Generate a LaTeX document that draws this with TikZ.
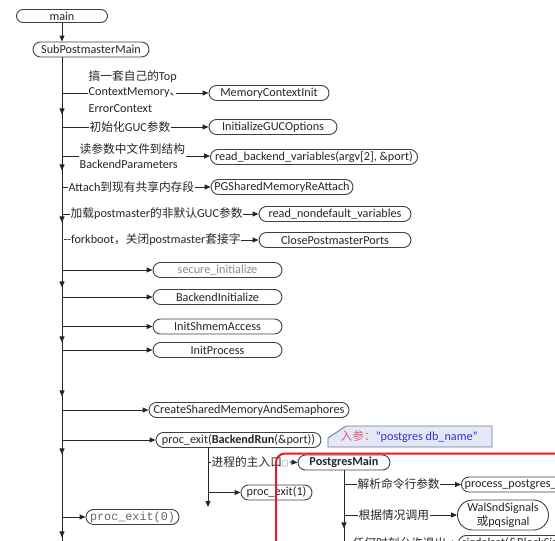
\documentclass[tikz,border=0pt]{standalone}
\usepackage{fontspec}
\setmainfont{Carlito}
\newfontfamily\cjk[Scale=0.96]{Noto Sans CJK SC}
\setmonofont{Liberation Mono}
\usetikzlibrary{arrows.meta,shapes.misc,decorations.markings}
\newcommand{\zh}[1]{{\cjk #1}}
\definecolor{framered}{RGB}{225,30,40}
\definecolor{callfill}{RGB}{228,231,248}
\definecolor{callline}{RGB}{110,120,140}
\definecolor{callred}{RGB}{225,90,120}
\definecolor{callblue}{RGB}{50,50,220}
\begin{document}
\begin{tikzpicture}[x=1pt,y=-1pt,
  every node/.style={font=\fontsize{12.2}{15}\selectfont, text=black!85},
  pill/.style={draw=black!75, line width=0.9pt, rounded rectangle, minimum height=15pt, inner sep=1pt, fill=white},
  lab/.style={anchor=west, inner sep=0.5pt},
  conn/.style={line width=0.9pt, draw=black!85},
  arr/.style={conn, -{Triangle[length=6pt,width=5pt]}}
]
\useasboundingbox (0,0) rectangle (555,541);
\clip (0,0) rectangle (555,541);

% top nodes
\node[pill, minimum width=93pt, minimum height=13pt] (main) at (62,16) {main};
\node[pill, minimum width=118pt] (spm) at (91,49.5) {SubPostmasterMain};
\draw[arr] (main.south) -- (main.south |- spm.north);

% main trunk
\coordinate (t0) at (main.south |- spm.south);
\coordinate (tend) at (62,560);
\draw[conn, postaction={decorate}, decoration={markings,
  mark=at position 57pt with {\arrow{Triangle[length=6pt,width=5pt]}},
  mark=at position 113pt with {\arrow{Triangle[length=6pt,width=5pt]}},
  mark=at position 165pt with {\arrow{Triangle[length=6pt,width=5pt]}},
  mark=at position 230pt with {\arrow{Triangle[length=6pt,width=5pt]}},
  mark=at position 285pt with {\arrow{Triangle[length=6pt,width=5pt]}},
  mark=at position 339pt with {\arrow{Triangle[length=6pt,width=5pt]}},
  mark=at position 397pt with {\arrow{Triangle[length=6pt,width=5pt]}},
  mark=at position 480pt with {\arrow{Triangle[length=6pt,width=5pt]}}}]
  (t0) -- (tend);

% branch 1
\node[lab] (l1a) at (88,77) {\zh{搞一套自己的}Top};
\node[lab] (l1b) at (88,93) {ContextMemory\zh{、}\kern-6pt};
\node[lab] (l1c) at (88,109) {ErrorContext};
\node[pill, minimum width=122pt] (mci) at (269,93) {MemoryContextInit};
\draw[conn] (t0 |- l1b.west) -- (l1b.west);
\draw[arr] (l1b.east) -- (mci.west);

% branch 2
\node[lab] (l2) at (89,127) {\zh{初始化}GUC\zh{参数}};
\node[pill, minimum width=130pt] (igo) at (273,127) {InitializeGUCOptions};
\draw[conn] (t0 |- l2.west) -- (l2.west);
\draw[arr] (l2.east) -- (igo.west);

% branch 3
\node[lab, align=left] (l3) at (79,156) {\zh{读参数中文件到结构}\\BackendParameters};
\node[pill, minimum width=209pt] (rbv) at (314,157) {read\_backend\_variables(argv[2], \&port)};
\draw[conn] (t0 |- l3.west) -- (l3.west);
\draw[arr] (l3.east) -- (l3.east -| rbv.west);

% branch 4
\node[lab] (l4) at (68,187) {Attach\zh{到现有共享内存段}};
\node[pill, minimum width=144pt] (pgs) at (282,187) {PGSharedMemoryReAttach};
\draw[conn] (t0 |- l4.west) -- (l4.west);
\draw[arr] (l4.east) -- (pgs.west);

% branch 5
\node[lab] (l5) at (70,214) {\zh{加载}postmaster\zh{的非默认}GUC\zh{参数}};
\node[pill, minimum width=154pt] (rnv) at (335,214) {read\_nondefault\_variables};
\draw[conn] (t0 |- l5.west) -- (l5.west);
\draw[arr] (l5.east) -- (rnv.west);

% branch 6
\node[lab] (l6) at (63,240) {-{}-forkboot\zh{，关闭}postmaster\zh{套接字}};
\node[pill, minimum width=154pt] (cpp) at (335,240) {ClosePostmasterPorts};
\draw[conn] (t0 |- l6.west) -- (l6.west);
\draw[arr] (l6.east) -- (cpp.west);

% direct branches
\node[pill, minimum width=131pt, text=black!45] (si) at (217.5,270) {secure\_initialize};
\node[pill, minimum width=131pt] (bi) at (217.5,297) {BackendInitialize};
\node[pill, minimum width=131pt] (isa) at (217.5,326.5) {InitShmemAccess};
\node[pill, minimum width=131pt] (ip) at (217.5,350) {InitProcess};
\node[pill, minimum width=202pt] (csm) at (249,410) {CreateSharedMemoryAndSemaphores};
\node[pill, minimum width=167pt] (per) at (238.5,440) {proc\_exit(\textbf{BackendRun}(\&port))};
\node[pill, minimum width=95pt, font=\ttfamily\fontsize{11.8}{14}\selectfont, text=black!60] (pe0) at (132.5,517) {proc\_exit(0)};
\foreach \n in {si,bi,isa,ip,csm,per,pe0}
  \draw[arr] (t0 |- \n.west) -- (\n.west);

% callout
\draw[fill=callfill, draw=callline, line width=0.9pt] (328,447) -- (328,438) -- (346,426) -- (492,426) -- (492,447) -- cycle;
\node[lab] (call) at (340,437) {\textcolor{callred}{\zh{入参：}}\textcolor{callblue}{\char"22 postgres db\_name\char"22}};

% sub trunk of proc_exit(BackendRun)
\coordinate (s0) at (208,447);
\coordinate (s1) at (208,507);
\draw[arr] (s0) -- (s1);
\node[lab] (l12) at (211,462) {\zh{进程的主入口}{\cjk\fontsize{7}{7}\selectfont □}};
\node[pill, minimum width=94pt] (pgm) at (344,462.5) {\textbf{PostgresMain}};
\node[pill, minimum width=73pt] (pe1) at (276.5,492.5) {proc\_exit(1)};
\draw[conn] (s0 |- l12.west) -- (l12.west);
\draw[arr] (l12.east) -- (pgm.west);
\draw[arr] (s0 |- pe1.west) -- (pe1.west);

% PostgresMain trunk
\coordinate (p1) at (344,560);
\draw[conn, postaction={decorate}, decoration={markings,
  mark=at position 58pt with {\arrow{Triangle[length=6pt,width=5pt]}}}]
  (pgm.south) -- (p1);
\node[lab] (m1) at (357,484.5) {\zh{解析命令行参数}};
\node[pill, anchor=west, minimum width=130pt] (pps) at (461,484.5) {process\_postgres\_switches};
\draw[conn] (pgm.south |- m1.west) -- (m1.west);
\draw[arr] (m1.east) -- (pps.west);
\node[lab] (m2) at (358,515) {\zh{根据情况调用}};
\node[pill, minimum width=93pt, minimum height=30pt, align=center, font=\fontsize{12.2}{14}\selectfont] (wal) at (503,515) {WalSndSignals\\\zh{或}pqsignal};
\draw[conn] (pgm.south |- m2.west) -- (m2.west);
\draw[arr] (m2.east) -- (wal.west);
\node[lab] (m3) at (352,543) {\zh{任何时刻允许退出}};
\node[pill, anchor=west, minimum width=150pt] (sds) at (458,543) {sigdelset(\&BlockSig, SIGQUIT)};
\draw[conn] (pgm.south |- m3.west) -- (m3.west);
\draw[arr] (m3.east) -- (sds.west);

% red frame
\draw[framered, line width=2pt, rounded corners=9pt] (276,600) -- (276,453.5) -- (600,453.5);
\end{tikzpicture}
\end{document}
